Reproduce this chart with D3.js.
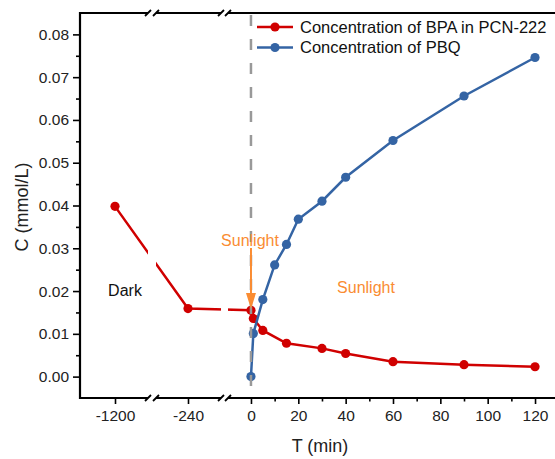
<!DOCTYPE html>
<html>
<head>
<meta charset="utf-8">
<script src="https://cdn.jsdelivr.net/npm/d3@7"></script>
<style>
  body { margin: 0; background: #fff; }
  svg { display: block; font-family: "Liberation Sans", Arial, sans-serif; }
</style>
</head>
<body>
<div id="app"></div>
<script>
// data
const bpaT = [-1200, -240, 0, 1, 5, 15, 30, 40, 60, 90, 120];
const bpaC = [0.0398, 0.0159, 0.0155, 0.0136, 0.0108, 0.0078, 0.0066, 0.0054, 0.0035, 0.0028, 0.0023];
const pbqT = [0, 1, 5, 10, 15, 20, 30, 40, 60, 90, 120];
const pbqC = [0, 0.0101, 0.0180, 0.0261, 0.0309, 0.0368, 0.0410, 0.0466, 0.0552, 0.0656, 0.0746];
const yTicks = [0, 0.01, 0.02, 0.03, 0.04, 0.05, 0.06, 0.07, 0.08];
const xTicksMain = [0, 20, 40, 60, 80, 100, 120];
const legendNames = ["Concentration of BPA in PCN-222", "Concentration of PBQ"];

const width = 555, height = 459;
const red = "#d00000", blue = "#3464a4", orange = "#fa8c32";

const svg = d3.select("#app").append("svg")
  .attr("width", width)
  .attr("height", height);

const yTop = 13, yBot = 398, xLeft = 80;

// y scale
const y = d3.scaleLinear().domain([-0.005, 0.085]).range([yBot, yTop]);

// broken x axis: three pieces
const seg = [
  { scale: d3.scaleLinear().domain([-1300, -1100]).range([80, 150]), x0: 80, x1: 148, ticks: [-1200], minor: [] },
  { scale: d3.scaleLinear().domain([-300, -180]).range([156, 220]), x0: 156, x1: 221, ticks: [-240], minor: [] },
  { scale: d3.scaleLinear().domain([-10, 130]).range([227.3, 558.7]), x0: 228, x1: 560, ticks: xTicksMain, minor: [10, 30, 50, 70, 90, 110] }
];
const x = t => t <= -1000 ? seg[0].scale(t) : (t <= -100 ? seg[1].scale(t) : seg[2].scale(t));

// clip so lines are cut at the breaks
const clip = svg.append("defs").append("clipPath").attr("id", "segs");
seg.forEach(s => clip.append("rect")
  .attr("x", s.x0).attr("y", 0).attr("width", s.x1 - s.x0).attr("height", height));

// y axis
const yAxis = svg.append("g").attr("transform", `translate(${xLeft},0)`)
  .call(d3.axisLeft(y).tickValues(yTicks).tickFormat(d3.format(".2f")).tickSize(7).tickPadding(4));
svg.append("g").attr("transform", `translate(${xLeft},0)`)
  .call(d3.axisLeft(y).tickValues(d3.range(0.005, 0.085, 0.01)).tickFormat("").tickSize(4))
  .call(g => g.select(".domain").remove());
yAxis.select(".domain").remove();
svg.selectAll("g.tick line").attr("stroke-width", 1.6);
yAxis.selectAll("text").attr("font-size", 15.5).attr("fill", "#222");

svg.append("line").attr("x1", xLeft).attr("x2", xLeft).attr("y1", yTop - 1).attr("y2", yBot + 1)
  .attr("stroke", "#000").attr("stroke-width", 2.2);

// x axis pieces
seg.forEach(s => {
  const g = svg.append("g").attr("transform", `translate(0,${yBot})`)
    .call(d3.axisBottom(s.scale).tickValues(s.ticks).tickFormat(d => String(d)).tickSize(6).tickPadding(6));
  g.select(".domain").remove();
  g.selectAll("line").attr("stroke-width", 1.6);
  g.selectAll("text").attr("font-size", 15.5).attr("fill", "#222");
  if (s.minor.length) {
    svg.append("g").attr("transform", `translate(0,${yBot})`)
      .call(d3.axisBottom(s.scale).tickValues(s.minor).tickFormat("").tickSize(3.5))
      .call(g => g.select(".domain").remove())
      .selectAll("line").attr("stroke-width", 1.6);
  }
  [yBot, yTop].forEach(yy => {
    svg.append("line").attr("x1", s.x0).attr("x2", s.x1).attr("y1", yy).attr("y2", yy)
      .attr("stroke", "#000").attr("stroke-width", 2.2);
  });
});
// break marks
[148, 156, 221, 228].forEach(bx => {
  [yBot, yTop].forEach(yy => {
    svg.append("line").attr("x1", bx - 3).attr("x2", bx + 3).attr("y1", yy + 3).attr("y2", yy - 3)
      .attr("stroke", "#000").attr("stroke-width", 1.8);
  });
});

// axis titles
svg.append("text").attr("x", 320).attr("y", 452).attr("text-anchor", "middle")
  .attr("font-size", 18).attr("fill", "#222").text("T (min)");
svg.append("text").attr("transform", "translate(28,207) rotate(-90)").attr("text-anchor", "middle")
  .attr("font-size", 18).attr("fill", "#222").text("C (mmol/L)");

// series
const line = d3.line().x(d => x(d[0])).y(d => y(d[1]));
const series = [
  { pts: d3.zip(bpaT, bpaC), color: red },
  { pts: d3.zip(pbqT, pbqC), color: blue }
];
const plot = svg.append("g").attr("clip-path", "url(#segs)");
series.forEach(s => {
  plot.append("path").datum(s.pts).attr("d", line)
    .attr("fill", "none").attr("stroke", s.color).attr("stroke-width", 2.5);
  plot.selectAll(null).data(s.pts).join("circle")
    .attr("cx", d => x(d[0])).attr("cy", d => y(d[1])).attr("r", 4.6)
    .attr("fill", s.color);
});

// t = 0 dashed line
svg.append("line").attr("x1", x(0)).attr("x2", x(0)).attr("y1", yTop + 2).attr("y2", yBot)
  .attr("stroke", "#999").attr("stroke-width", 2.5).attr("stroke-dasharray", "11,13");

// sunlight arrow
svg.append("line").attr("x1", x(0)).attr("x2", x(0)).attr("y1", 248).attr("y2", 296)
  .attr("stroke", orange).attr("stroke-width", 2);
svg.append("path")
  .attr("d", `M${x(0) - 5},293 L${x(0) + 5},293 L${x(0)},309 Z`)
  .attr("fill", orange);

svg.append("text").attr("x", 250).attr("y", 246).attr("text-anchor", "middle")
  .attr("font-size", 16).attr("fill", orange).text("Sunlight");
svg.append("text").attr("x", 366).attr("y", 293).attr("text-anchor", "middle")
  .attr("font-size", 16).attr("fill", orange).text("Sunlight");
svg.append("text").attr("x", 125).attr("y", 296).attr("text-anchor", "middle")
  .attr("font-size", 16).attr("fill", "#111").text("Dark");

// legend
const leg = svg.append("g");
legendNames.forEach((name, i) => {
  const ly = 27 + i * 20.5;
  const c = i === 0 ? red : blue;
  leg.append("line").attr("x1", 257).attr("x2", 293).attr("y1", ly).attr("y2", ly)
    .attr("stroke", c).attr("stroke-width", 2.5);
  leg.append("circle").attr("cx", 275).attr("cy", ly).attr("r", 4.6).attr("fill", c);
  leg.append("text").attr("x", 300).attr("y", ly + 5.5)
    .attr("font-size", 16.5).attr("fill", "#111").text(name);
});
</script>
</body>
</html>
